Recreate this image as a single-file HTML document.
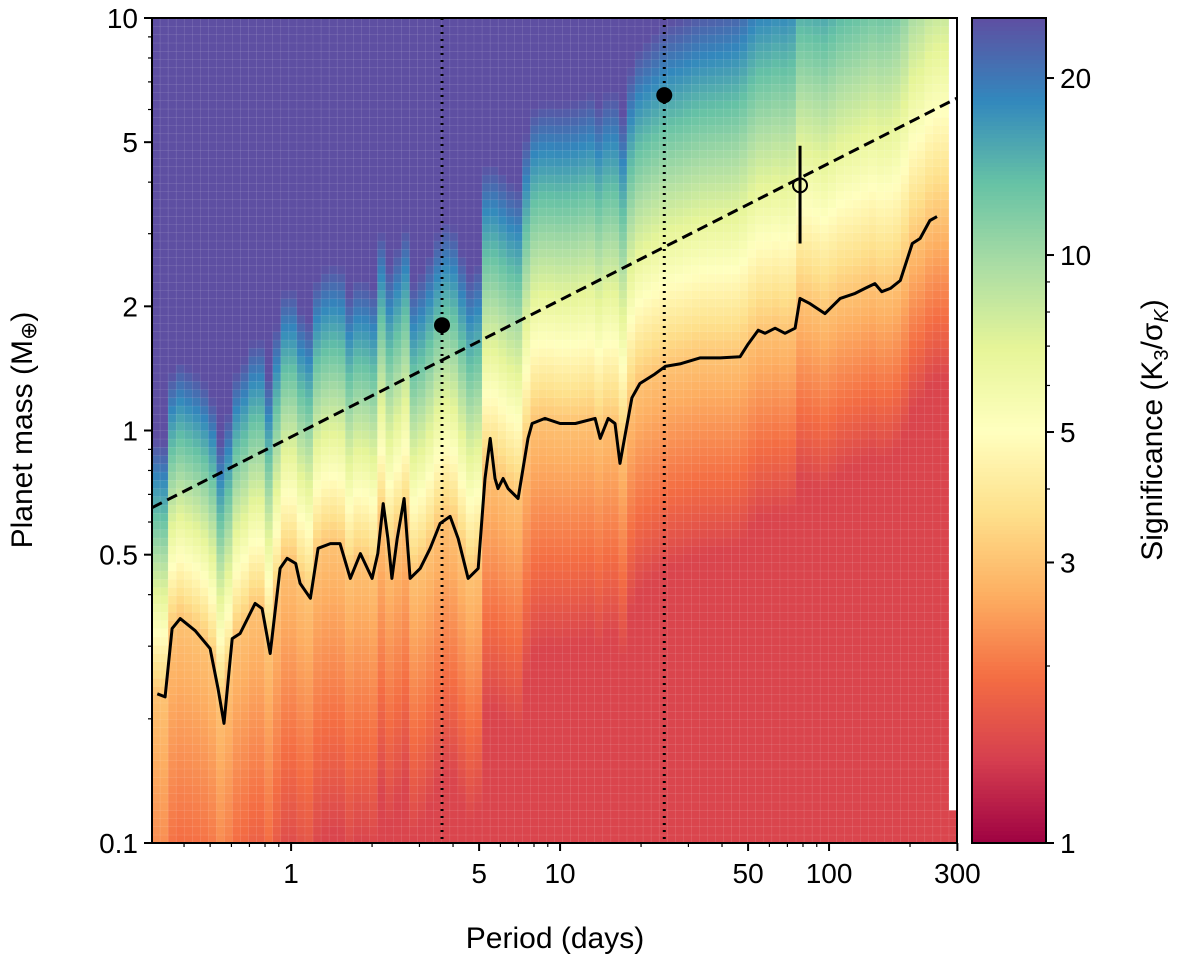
<!DOCTYPE html>
<html><head><meta charset="utf-8">
<style>
html,body{margin:0;padding:0;background:#fff;}
svg{display:block;font-family:"Liberation Sans","DejaVu Sans",sans-serif;}
</style></head>
<body>
<svg id="chart" width="1200" height="961" viewBox="0 0 1200 961" xmlns="http://www.w3.org/2000/svg">
  <g id="cells"></g>
  <g id="overlay"></g>
  <rect x="152" y="18" width="805" height="825" fill="none" stroke="#000" stroke-width="2"/>
  <g id="axes"></g>
  <g id="cbar"></g>
  <text x="555" y="948" font-size="30" text-anchor="middle">Period (days)</text>
  <text transform="translate(32,430) rotate(-90)" font-size="30" text-anchor="middle">Planet mass (M<tspan font-size="22" dy="4">⊕</tspan><tspan dy="-4">)</tspan></text>
  <text transform="translate(1162,430) rotate(-90)" font-size="30" text-anchor="middle">Significance (K<tspan font-size="20" dy="6">3</tspan><tspan dy="-6">/σ</tspan><tspan font-size="20" dy="6" font-style="italic">K</tspan><tspan dy="-6">)</tspan></text>
</svg>
<script>
// ---- data ----
const contourPeriods=[0.318,0.340,0.361,0.387,0.440,0.500,0.535,0.563,0.604,0.646,0.735,0.780,0.836,0.910,0.966,1.04,1.08,1.18,1.26,1.40,1.52,1.66,1.81,2.00,2.10,2.20,2.29,2.37,2.48,2.63,2.77,3.02,3.29,3.58,3.90,4.18,4.55,4.96,5.26,5.50,5.73,5.88,6.14,6.41,6.98,7.60,7.87,8.79,10,11.4,13.5,14.1,15.1,16.0,16.7,17.5,18.5,19.8,22.5,24.6,27.9,33.1,39.4,46.7,50,54.5,57.8,63,68.6,74.8,78,85,96.6,110,125,136,148,157,169,184,204,218,237,252];
const contourMasses=[0.230,0.226,0.331,0.350,0.327,0.296,0.237,0.195,0.313,0.322,0.381,0.370,0.288,0.463,0.490,0.476,0.426,0.392,0.518,0.532,0.532,0.438,0.503,0.438,0.503,0.665,0.547,0.438,0.547,0.684,0.438,0.463,0.518,0.595,0.619,0.547,0.438,0.463,0.765,0.957,0.765,0.723,0.765,0.723,0.684,0.957,1.04,1.07,1.04,1.04,1.07,0.957,1.07,1.04,0.832,0.984,1.20,1.30,1.37,1.43,1.45,1.50,1.50,1.51,1.62,1.75,1.72,1.77,1.72,1.77,2.09,2.03,1.92,2.09,2.15,2.21,2.27,2.17,2.21,2.31,2.84,2.92,3.23,3.30];
const dashedPeriods=[0.304,300];
const dashedMasses=[0.65,6.4];
const planetPeriods=[3.64,24.4];
const planetMasses=[1.8,6.5];
const candPeriod=[78], candMass=[3.93], candLo=[2.84], candHi=[4.9];
const dottedPeriods=[3.64,24.4];
const xTicks=[1,5,10,50,100,300], xTickLabels=["1","5","10","50","100","300"];
const yTicks=[0.1,0.5,1,2,5,10], yTickLabels=["0.1","0.5","1","2","5","10"];
const cTicks=[1,3,5,10,20], cTickLabels=["1","3","5","10","20"];
// ---- scales ----
const X0=152,X1=957,Y0=18,Y1=843;
const lx0=Math.log10(0.304),lx1=Math.log10(299);
const ly0=-1,ly1=1;
const xs=p=>X0+(Math.log10(p)-lx0)/(lx1-lx0)*(X1-X0);
const ys=m=>Y1-(Math.log10(m)-ly0)/(ly1-ly0)*(Y1-Y0);
const CMAX=25.3;
const cs=s=>Y1-Math.log10(s)/Math.log10(CMAX)*(Y1-Y0);
const stops=[[158,1,66],[213,62,79],[244,109,67],[253,174,97],[254,224,139],[255,255,191],[230,245,152],[171,221,164],[102,194,165],[50,136,189],[94,79,162]];
function cmap(s){let t=Math.log10(Math.max(1,s))/Math.log10(CMAX);t=Math.min(1,Math.max(0,t))*10;
 const i=Math.min(9,Math.floor(t)),f=t-i,a=stops[i],b=stops[i+1];
 return `rgb(${Math.round(a[0]+(b[0]-a[0])*f)},${Math.round(a[1]+(b[1]-a[1])*f)},${Math.round(a[2]+(b[2]-a[2])*f)})`;}
function mc(p){const lp=Math.log10(p);
 if(p<=contourPeriods[0])return contourMasses[0];
 for(let i=1;i<contourPeriods.length;i++){if(p<=contourPeriods[i]){const a=Math.log10(contourPeriods[i-1]),b=Math.log10(contourPeriods[i]);const f=(lp-a)/(b-a);return Math.pow(10,Math.log10(contourMasses[i-1])*(1-f)+Math.log10(contourMasses[i])*f);}}
 return contourMasses[contourMasses.length-1];}
function sig(p,m,c){const r=m/c;const u=(Math.log10(p)+0.5)/2.9;
 if(r<1)return Math.max(1.45,3*Math.pow(r,0.35+0.45*u));
 return 3*Math.pow(r,1.5-0.6*u);}
const NS="http://www.w3.org/2000/svg";
function mk(tag,attrs,parent){const e=document.createElementNS(NS,tag);for(const k in attrs)e.setAttribute(k,attrs[k]);parent.appendChild(e);return e;}
// ---- heatmap ----
const cells=document.getElementById('cells');
const NC=100,NR=100;
for(let i=0;i<NC;i++){
 const pa=Math.pow(10,lx0+(lx1-lx0)*i/NC),pb=Math.pow(10,lx0+(lx1-lx0)*(i+1)/NC);
 const pm=Math.sqrt(pa*pb);
 const c=mc(pm);
 for(let j=0;j<NR;j++){
  const ma=Math.pow(10,ly0+(ly1-ly0)*j/NR),mb=Math.pow(10,ly0+(ly1-ly0)*(j+1)/NR);
  const mm=Math.sqrt(ma*mb);
  let fill;
  if(pm>283&&mm>0.12)fill="#fff";
  else fill=cmap(sig(pm,mm,c));
  const r=mk('rect',{x:xs(pa).toFixed(2),y:ys(mb).toFixed(2),width:(xs(pb)-xs(pa)+0.3).toFixed(2),height:(ys(ma)-ys(mb)+0.3).toFixed(2),fill:fill,stroke:"rgba(255,255,255,0.18)","stroke-width":0.5},cells);
  
  
 }}
// ---- overlay ----
const ov=document.getElementById('overlay');
dottedPeriods.forEach(p=>{const l=mk('line',{x1:xs(p),x2:xs(p),y1:Y0,y2:Y1,stroke:"#000","stroke-width":3,"stroke-dasharray":"2 5"},ov);
 
 });
const dl=mk('line',{x1:xs(dashedPeriods[0]),y1:ys(dashedMasses[0]),x2:xs(dashedPeriods[1]),y2:ys(dashedMasses[1]),stroke:"#000","stroke-width":3,"stroke-dasharray":"11 6"},ov);


const pts=contourPeriods.map((p,i)=>xs(p).toFixed(1)+","+ys(contourMasses[i]).toFixed(1)).join(" ");
const cl=mk('polyline',{points:pts,fill:"none",stroke:"#000","stroke-width":3,"stroke-linejoin":"round"},ov);


planetPeriods.forEach((p,i)=>{const c=mk('circle',{cx:xs(p),cy:ys(planetMasses[i]),r:8,fill:"#000"},ov);
 
 });
candPeriod.forEach((p,i)=>{const e=mk('line',{x1:xs(p),x2:xs(p),y1:ys(candHi[i]),y2:ys(candLo[i]),stroke:"#000","stroke-width":3},ov);
 
 
 const c=mk('circle',{cx:xs(p),cy:ys(candMass[i]),r:7,fill:"none",stroke:"#000","stroke-width":2},ov);
 
 });
// ---- axes ----
const ax=document.getElementById('axes');
xTicks.forEach((v,i)=>{const x=xs(v);mk('line',{x1:x,x2:x,y1:Y1,y2:Y1+8,stroke:"#000","stroke-width":2},ax);
 const t=mk('text',{x:x,y:Y1+40,"font-size":28,"text-anchor":"middle"},ax);t.textContent=xTickLabels[i];
 
 });
for(let d=-1;d<3;d++)for(let k=1;k<10;k++){const v=k*Math.pow(10,d);if(v<0.31||v>299)continue;const x=xs(v);mk('line',{x1:x,x2:x,y1:Y1,y2:Y1+4,stroke:"#000","stroke-width":1.2},ax);}
yTicks.forEach((v,i)=>{const y=ys(v);mk('line',{x1:X0-8,x2:X0,y1:y,y2:y,stroke:"#000","stroke-width":2},ax);
 const t=mk('text',{x:X0-14,y:y+10,"font-size":28,"text-anchor":"end"},ax);t.textContent=yTickLabels[i];
 
 });
for(let d=-1;d<1;d++)for(let k=1;k<10;k++){const v=k*Math.pow(10,d);const y=ys(v);mk('line',{x1:X0-4,x2:X0,y1:y,y2:y,stroke:"#000","stroke-width":1.2},ax);}
// ---- colorbar ----
const cb=document.getElementById('cbar');
for(let k=0;k<200;k++){const s1=Math.pow(CMAX,k/200),s2=Math.pow(CMAX,(k+1)/200);
 const r=mk('rect',{x:972,y:cs(s2),width:74,height:cs(s1)-cs(s2)+0.5,fill:cmap(Math.sqrt(s1*s2))},cb);
 
 }
mk('rect',{x:972,y:Y0,width:74,height:Y1-Y0,fill:"none",stroke:"#000","stroke-width":2},cb);
cTicks.forEach((v,i)=>{const y=cs(v);mk('line',{x1:1046,x2:1054,y1:y,y2:y,stroke:"#000","stroke-width":2},cb);
 const t=mk('text',{x:1060,y:y+10,"font-size":28},cb);t.textContent=cTickLabels[i];
 
 });
[2,4,6,7,8,9].forEach(v=>{const y=cs(v);mk('line',{x1:1046,x2:1050,y1:y,y2:y,stroke:"#000","stroke-width":1.2},cb);});
</script>
</body></html>
